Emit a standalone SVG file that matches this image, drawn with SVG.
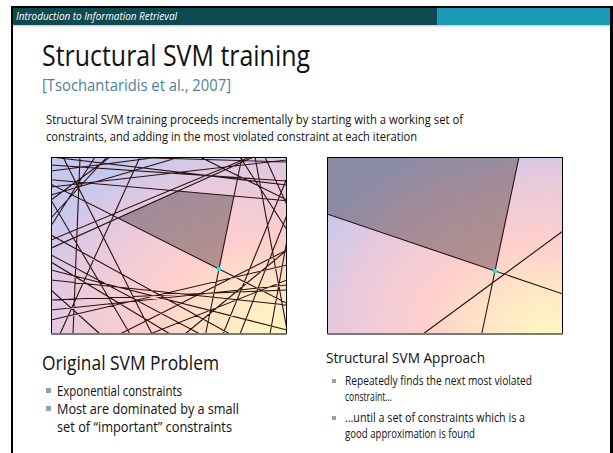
<svg xmlns="http://www.w3.org/2000/svg" width="613" height="453" viewBox="0 0 613 453">
  <style>
    .hdr { font-family: "Open Sans", "Liberation Sans", sans-serif; font-style: italic; font-size: 11px; fill: #ffffff; }
    .title { font-family: "Open Sans", "Liberation Sans", sans-serif; font-size: 29px; fill: #111111; }
    .cite { font-family: "Open Sans", "Liberation Sans", sans-serif; font-size: 17px; fill: #4f7f9e; }
    .para { font-family: "Open Sans", "Liberation Sans", sans-serif; font-size: 12.5px; fill: #111111; }
    .h2l { font-family: "Open Sans", "Liberation Sans", sans-serif; font-size: 19.5px; fill: #111111; }
    .bl { font-family: "Open Sans", "Liberation Sans", sans-serif; font-size: 14.5px; fill: #111111; }
    .h2r { font-family: "Open Sans", "Liberation Sans", sans-serif; font-size: 15px; fill: #111111; }
    .br { font-family: "Open Sans", "Liberation Sans", sans-serif; font-size: 12px; fill: #111111; }
    .bullet { fill: #8ca2b6; }
    .cons { fill: none; stroke: #2a1212; stroke-width: 1.1; }
    .feas { fill: #1e1418; fill-opacity: 0.34; }
    .opt { fill: #19e6e6; }
    .frame { fill: none; stroke: #000000; stroke-width: 1; }
  </style>
  <defs>
    <radialGradient id="bg" cx="0.93" cy="1.0" r="1.15" fx="0.93" fy="1.0">
      <stop offset="0" stop-color="#fff8c2"/>
      <stop offset="0.25" stop-color="#ffe4c6"/>
      <stop offset="0.45" stop-color="#ffcfcd"/>
      <stop offset="0.75" stop-color="#e9c9dc"/>
      <stop offset="1" stop-color="#c6c8f0"/>
    </radialGradient>
    <clipPath id="clipL"><rect x="51" y="157" width="236" height="178"/></clipPath>
    <clipPath id="clipR"><rect x="327" y="157" width="236" height="178"/></clipPath>
  </defs>

  <!-- slide frame -->
  <rect x="0" y="0" width="613" height="453" fill="#ffffff"/>
  <rect x="11" y="6" width="602" height="460" fill="#000000"/>
  <rect x="13" y="8" width="597" height="460" fill="#ffffff"/>

  <!-- header bar -->
  <g id="header">
    <rect x="13" y="8" width="424" height="17" fill="#0f4a53"/>
    <rect x="437" y="8" width="173" height="17" fill="#1a9ab6"/>
    <rect x="13" y="25" width="597" height="1.5" fill="#d4d4d4"/>
    <text class="hdr" x="16" y="20" textLength="161" lengthAdjust="spacingAndGlyphs">Introduction to Information Retrieval</text>
  </g>

  <!-- title block -->
  <g id="title">
    <text class="title" x="42" y="66" textLength="268" lengthAdjust="spacingAndGlyphs">Structural SVM training</text>
    <text class="cite" x="42" y="91" textLength="189" lengthAdjust="spacingAndGlyphs">[Tsochantaridis et al., 2007]</text>
  </g>

  <g id="intro">
    <text class="para" x="46" y="124" textLength="417" lengthAdjust="spacingAndGlyphs">Structural SVM training proceeds incrementally by starting with a working set of</text>
    <text class="para" x="46" y="141" textLength="371" lengthAdjust="spacingAndGlyphs">constraints, and adding in the most violated constraint at each iteration</text>
  </g>

  <!-- left panel: all constraints -->
  <g id="panel-original">
    <rect x="51" y="157" width="236" height="178" fill="url(#bg)"/>
    <g clip-path="url(#clipL)">
      <polygon class="feas" points="118,218 178,191 234,196 219,269"/>
      <path class="cons" d="
        M51,184.2 L287,303.3
        M51,248.2 L253.6,157
        M51,179.7 L287,200.7
        M242,157 L205.6,334
        M51,165 L287,181
        M51,171 L160,157
        M51,187 L287,160
        M63,157 L152,334
        M51,218 L107,157
        M80,157 L73,334
        M95,157 L51,226
        M250,157 L51,240
        M240,157 L287,230
        M287,178 L223,334
        M287,215 L240,334
        M287,250 L185,334
        M287,280 L150,334
        M287,290 L51,300
        M287,305 L51,280
        M51,270 L287,330
        M51,310 L287,285
        M51,255 L200,334
        M51,235 L230,334
        M51,320 L287,265
        M100,334 L51,290
        M51,200 L130,334
        M170,334 L51,262
        M270,334 L287,240
        M287,330 L255,157
        M265,157 L287,205
        M110,157 L51,200
        M180,157 L51,195
        M287,162 L120,157
        M287,200 L200,157
        M120,334 L287,250
        M60,334 L140,157
        M287,185 L51,157"/>
      <circle class="opt" cx="219" cy="269" r="2.2"/>
    </g>
    <rect class="frame" x="51.5" y="157.5" width="235" height="176"/>
    <rect x="51" y="333" width="236" height="2" fill="#7a7a7a"/>
  </g>

  <!-- right panel: working set -->
  <g id="panel-structural">
    <rect x="327" y="157" width="236" height="178" fill="url(#bg)"/>
    <g clip-path="url(#clipR)">
      <polygon class="feas" points="327,157 519,157 495,271 327,214"/>
      <path class="cons" d="
        M327,214 L563,294
        M519,157 L481.7,334
        M423,334 L563,231"/>
      <circle class="opt" cx="495" cy="271" r="2.2"/>
    </g>
    <rect class="frame" x="327.5" y="157.5" width="235" height="176"/>
    <rect x="327" y="333" width="236" height="2" fill="#7a7a7a"/>
  </g>

  <!-- left caption -->
  <g id="caption-original">
    <text class="h2l" x="42" y="370" textLength="177" lengthAdjust="spacingAndGlyphs">Original SVM Problem</text>
    <rect class="bullet" x="46" y="388" width="5" height="5"/>
    <text class="bl" x="57" y="396" textLength="125" lengthAdjust="spacingAndGlyphs">Exponential constraints</text>
    <rect class="bullet" x="46" y="406" width="5" height="5"/>
    <text class="bl" x="57" y="414" textLength="182" lengthAdjust="spacingAndGlyphs">Most are dominated by a small</text>
    <text class="bl" x="57" y="432" textLength="175" lengthAdjust="spacingAndGlyphs">set of “important” constraints</text>
  </g>

  <!-- right caption -->
  <g id="caption-structural">
    <text class="h2r" x="326" y="363" textLength="159" lengthAdjust="spacingAndGlyphs">Structural SVM Approach</text>
    <rect class="bullet" x="332" y="379" width="4" height="4"/>
    <text class="br" x="345" y="385" textLength="187" lengthAdjust="spacingAndGlyphs">Repeatedly finds the next most violated</text>
    <text class="br" x="345" y="401" textLength="47" lengthAdjust="spacingAndGlyphs">constraint…</text>
    <rect class="bullet" x="332" y="416" width="4" height="4"/>
    <text class="br" x="345" y="422" textLength="180" lengthAdjust="spacingAndGlyphs">…until a set of constraints which is a</text>
    <text class="br" x="345" y="438" textLength="130" lengthAdjust="spacingAndGlyphs">good approximation is found</text>
  </g>
</svg>
